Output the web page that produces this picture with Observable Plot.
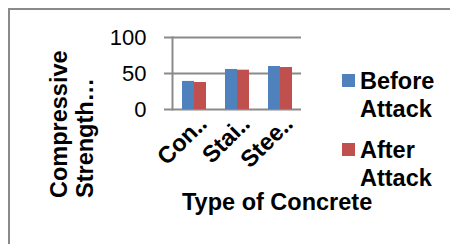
<!DOCTYPE html>
<html>
<head>
<meta charset="utf-8">
<script src="https://cdn.jsdelivr.net/npm/d3@7"></script>
<script src="https://cdn.jsdelivr.net/npm/@observablehq/plot@0.6"></script>
<style>
  html, body { margin: 0; padding: 0; background: #fff; }
  #wrap { position: relative; width: 450px; height: 244px; overflow: hidden; background: #fff;
          font-family: "Liberation Sans", Arial, sans-serif; color: #000; }
  #frame { position: absolute; left: 8px; top: 8px; width: 470px; height: 270px;
           border-left: 2px solid #8a8a8a; border-top: 2px solid #8a8a8a; }
  #chart { position: absolute; left: 0; top: 0; }
  .ttl { position: absolute; font-weight: bold; font-size: 23.5px; line-height: 26px; white-space: nowrap; }
  #ytitle { left: 45.5px; top: 198px; transform-origin: 0 0; transform: rotate(-90deg); }
  #xtitle { left: 182px; top: 188px; line-height: 28px; }
  .leg { position: absolute; font-weight: bold; font-size: 23.5px; line-height: 28px; white-space: nowrap; }
  .sw { position: absolute; width: 13px; height: 13px; }
</style>
</head>
<body>
<div id="wrap">
  <div id="frame"></div>
  <div id="chart"></div>
  <div id="ytitle" class="ttl"></div>
  <div id="xtitle" class="ttl"></div>
  <div id="legend"></div>
</div>
<script>
const categories = ["Con‥", "Stai‥", "Stee‥"];
const seriesNames = ["Before Attack", "After Attack"];
const beforeAttack = [39.0, 55.6, 59.7];
const afterAttack = [37.5, 54.6, 58.3];
const yTicks = [0, 50, 100];
const seriesColors = ["#4F81BD", "#C0504D"];
const yTitleLines = ["Compressive", "Strength…"];
const xTitle = "Type of Concrete";

const rows = [];
categories.forEach((c, i) => {
  rows.push({cat: c, series: seriesNames[0], value: beforeAttack[i]});
  rows.push({cat: c, series: seriesNames[1], value: afterAttack[i]});
});

const chart = Plot.plot({
  width: 450,
  height: 244,
  marginLeft: 172,
  marginRight: 149,
  marginTop: 37,
  marginBottom: 135,
  style: {fontFamily: "'Liberation Sans', Arial, sans-serif", fontSize: "22px", color: "#000", background: "transparent", overflow: "visible"},
  fx: {domain: categories, padding: 0, label: null},
  x: {domain: seriesNames, paddingInner: 0, paddingOuter: 0.73, axis: null},
  y: {domain: [0, 100], axis: null},
  color: {domain: seriesNames, range: seriesColors},
  marks: [
    Plot.gridY(yTicks, {stroke: "#8a8a8a", strokeOpacity: 1, strokeWidth: 2}),
    Plot.barY(rows, {fx: "cat", x: "series", y: "value", fill: "series"}),
    Plot.axisY(yTicks, {anchor: "left", tickSize: 8, tickPadding: 18, label: null,
      stroke: "#8a8a8a", strokeWidth: 2, strokeOpacity: 1, fontSize: 22, tickFormat: d => String(d)}),
    Plot.frame({anchor: "left", facetAnchor: "left", stroke: "#8a8a8a", strokeWidth: 2, strokeOpacity: 1}),
    Plot.axisFx({anchor: "bottom", tickRotate: -45, tickSize: 0, tickPadding: 3, label: null,
      fontWeight: "bold", fontSize: 23.5, dx: 9, dy: 7})
  ]
});
document.getElementById("chart").appendChild(chart);

document.getElementById("ytitle").innerHTML = yTitleLines.join("<br>");
document.getElementById("xtitle").textContent = xTitle;

const legend = document.getElementById("legend");
const legTops = [66.9, 135.6];
seriesNames.forEach((name, i) => {
  const sw = document.createElement("div");
  sw.className = "sw";
  sw.style.left = "342px";
  sw.style.top = (legTops[i] + 7.5) + "px";
  sw.style.background = seriesColors[i];
  legend.appendChild(sw);
  const t = document.createElement("div");
  t.className = "leg";
  t.style.left = "360px";
  t.style.top = legTops[i] + "px";
  t.innerHTML = name.split(" ").join("<br>");
  legend.appendChild(t);
});
</script>
</body>
</html>
